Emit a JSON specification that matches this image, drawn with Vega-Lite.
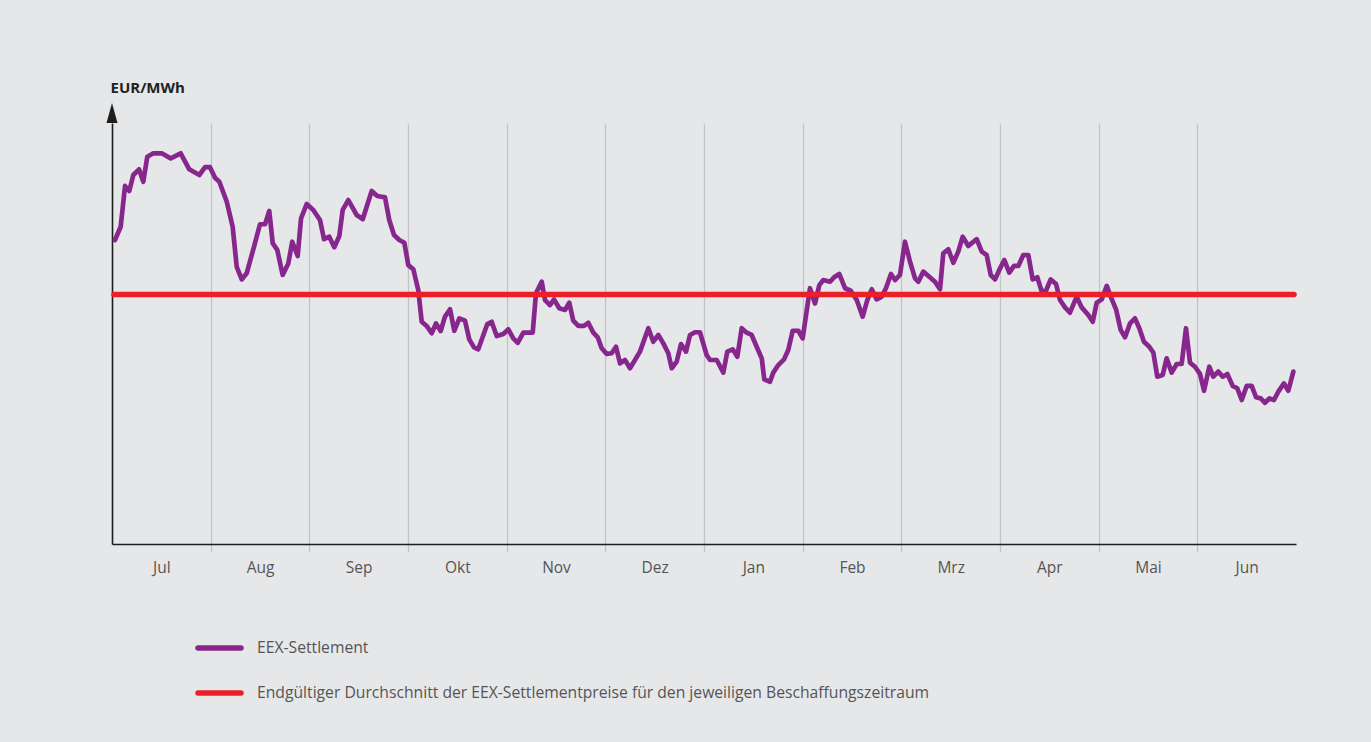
{
  "$schema": "https://vega.github.io/schema/vega-lite/v6.json",
  "autosize": {"type": "none"},
  "padding": {"left": 112, "top": 123, "right": 75, "bottom": 198},
  "width": 1184,
  "height": 421,
  "background": "#e6e7e9",
  "config": {
    "view": {"stroke": null},
    "font": "Open Sans",
    "axis": {"labelFont": "Open Sans", "titleFont": "Open Sans"},
    "legend": {"labelFont": "Open Sans"}
  },
  "datasets": {
    "eex": [
      {"t":0.030,"v":144.4},{"t":0.088,"v":150.7},{"t":0.132,"v":170.1},{"t":0.175,"v":167.7},{"t":0.216,"v":175.3},{"t":0.274,"v":178.0},{"t":0.317,"v":172.1},{"t":0.358,"v":184.0},{"t":0.419,"v":185.6},{"t":0.504,"v":185.6},
      {"t":0.595,"v":183.2},{"t":0.696,"v":185.6},{"t":0.783,"v":178.0},{"t":0.885,"v":175.3},{"t":0.943,"v":179.0},{"t":0.993,"v":179.0},{"t":1.044,"v":174.0},{"t":1.088,"v":172.1},{"t":1.163,"v":162.6},{"t":1.223,"v":150.7},
      {"t":1.264,"v":131.7},{"t":1.315,"v":125.7},{"t":1.365,"v":128.6},{"t":1.439,"v":141.2},{"t":1.500,"v":151.9},{"t":1.551,"v":151.9},{"t":1.594,"v":158.2},{"t":1.629,"v":142.9},{"t":1.675,"v":139.7},{"t":1.730,"v":127.8},
      {"t":1.787,"v":133.3},{"t":1.827,"v":143.6},{"t":1.882,"v":136.8},{"t":1.916,"v":154.7},{"t":1.973,"v":161.5},{"t":2.040,"v":158.7},{"t":2.108,"v":153.9},{"t":2.149,"v":144.8},{"t":2.202,"v":146.0},{"t":2.253,"v":141.0},
      {"t":2.304,"v":146.3},{"t":2.338,"v":158.7},{"t":2.395,"v":163.4},{"t":2.480,"v":156.3},{"t":2.541,"v":154.3},{"t":2.632,"v":167.7},{"t":2.689,"v":165.3},{"t":2.767,"v":164.7},{"t":2.810,"v":153.9},{"t":2.858,"v":146.8},
      {"t":2.912,"v":144.4},{"t":2.963,"v":143.1},{"t":3.003,"v":132.5},{"t":3.054,"v":130.5},{"t":3.104,"v":120.7},{"t":3.139,"v":105.6},{"t":3.189,"v":103.6},{"t":3.240,"v":100.1},{"t":3.284,"v":104.8},{"t":3.331,"v":101.2},
      {"t":3.375,"v":108.0},{"t":3.426,"v":111.5},{"t":3.469,"v":101.3},{"t":3.520,"v":107.2},{"t":3.578,"v":106.1},{"t":3.621,"v":97.2},{"t":3.669,"v":93.4},{"t":3.712,"v":92.5},{"t":3.804,"v":104.5},{"t":3.848,"v":105.6},
      {"t":3.899,"v":98.8},{"t":3.966,"v":99.8},{"t":4.017,"v":102.0},{"t":4.067,"v":97.7},{"t":4.112,"v":95.6},{"t":4.169,"v":100.4},{"t":4.264,"v":100.4},{"t":4.297,"v":119.1},{"t":4.355,"v":124.6},{"t":4.389,"v":115.9},
      {"t":4.439,"v":113.5},{"t":4.480,"v":116.2},{"t":4.533,"v":112.0},{"t":4.591,"v":111.2},{"t":4.635,"v":114.6},{"t":4.675,"v":106.1},{"t":4.726,"v":103.6},{"t":4.784,"v":103.6},{"t":4.827,"v":105.1},{"t":4.878,"v":100.4},
      {"t":4.923,"v":98.2},{"t":4.963,"v":93.0},{"t":5.014,"v":90.3},{"t":5.064,"v":90.6},{"t":5.108,"v":93.7},{"t":5.149,"v":85.8},{"t":5.199,"v":87.4},{"t":5.250,"v":83.5},{"t":5.311,"v":88.2},{"t":5.351,"v":91.4},
      {"t":5.436,"v":102.5},{"t":5.486,"v":96.1},{"t":5.537,"v":99.3},{"t":5.588,"v":95.3},{"t":5.638,"v":90.6},{"t":5.673,"v":83.5},{"t":5.723,"v":86.6},{"t":5.767,"v":95.0},{"t":5.818,"v":91.4},{"t":5.858,"v":99.3},
      {"t":5.909,"v":100.6},{"t":5.959,"v":100.6},{"t":6.027,"v":89.8},{"t":6.061,"v":87.4},{"t":6.129,"v":87.4},{"t":6.196,"v":81.4},{"t":6.236,"v":91.4},{"t":6.291,"v":92.5},{"t":6.338,"v":89.0},{"t":6.382,"v":102.5},
      {"t":6.433,"v":100.4},{"t":6.483,"v":99.3},{"t":6.534,"v":93.7},{"t":6.585,"v":88.2},{"t":6.611,"v":78.2},{"t":6.669,"v":77.1},{"t":6.702,"v":81.4},{"t":6.753,"v":85.0},{"t":6.811,"v":87.7},{"t":6.854,"v":92.2},
      {"t":6.899,"v":101.3},{"t":6.956,"v":101.3},{"t":7.000,"v":97.7},{"t":7.074,"v":121.5},{"t":7.125,"v":114.3},{"t":7.169,"v":123.0},{"t":7.209,"v":125.4},{"t":7.277,"v":124.6},{"t":7.318,"v":126.7},{"t":7.371,"v":128.3},
      {"t":7.429,"v":121.5},{"t":7.487,"v":120.3},{"t":7.548,"v":115.9},{"t":7.608,"v":108.0},{"t":7.655,"v":115.9},{"t":7.700,"v":121.0},{"t":7.750,"v":116.2},{"t":7.801,"v":117.5},{"t":7.844,"v":121.5},{"t":7.895,"v":128.3},
      {"t":7.936,"v":125.4},{"t":7.986,"v":127.8},{"t":8.037,"v":143.6},{"t":8.088,"v":134.1},{"t":8.139,"v":126.2},{"t":8.172,"v":124.6},{"t":8.223,"v":129.4},{"t":8.283,"v":127.0},{"t":8.341,"v":124.6},{"t":8.392,"v":121.0},
      {"t":8.425,"v":138.1},{"t":8.476,"v":140.0},{"t":8.527,"v":133.6},{"t":8.577,"v":138.9},{"t":8.622,"v":146.0},{"t":8.679,"v":141.6},{"t":8.764,"v":144.8},{"t":8.815,"v":138.9},{"t":8.865,"v":137.3},{"t":8.906,"v":127.8},
      {"t":8.950,"v":125.7},{"t":8.993,"v":130.2},{"t":9.044,"v":134.9},{"t":9.094,"v":128.9},{"t":9.142,"v":132.1},{"t":9.186,"v":132.1},{"t":9.236,"v":137.3},{"t":9.287,"v":137.3},{"t":9.331,"v":125.7},{"t":9.378,"v":126.7},
      {"t":9.423,"v":119.9},{"t":9.466,"v":120.3},{"t":9.514,"v":125.7},{"t":9.568,"v":123.5},{"t":9.608,"v":115.9},{"t":9.659,"v":112.4},{"t":9.709,"v":109.9},{"t":9.777,"v":117.5},{"t":9.828,"v":112.4},{"t":9.895,"v":108.8},
      {"t":9.940,"v":105.6},{"t":9.980,"v":114.6},{"t":10.031,"v":116.2},{"t":10.082,"v":122.6},{"t":10.122,"v":117.5},{"t":10.176,"v":111.5},{"t":10.223,"v":101.7},{"t":10.267,"v":98.2},{"t":10.318,"v":104.8},{"t":10.368,"v":107.2},
      {"t":10.412,"v":102.5},{"t":10.459,"v":96.1},{"t":10.513,"v":93.7},{"t":10.554,"v":90.9},{"t":10.594,"v":79.5},{"t":10.649,"v":80.3},{"t":10.689,"v":88.2},{"t":10.740,"v":81.4},{"t":10.791,"v":85.5},{"t":10.841,"v":85.5},
      {"t":10.885,"v":102.5},{"t":10.926,"v":86.1},{"t":10.976,"v":84.2},{"t":11.027,"v":80.8},{"t":11.068,"v":72.8},{"t":11.121,"v":84.2},{"t":11.162,"v":79.5},{"t":11.212,"v":81.9},{"t":11.257,"v":79.5},{"t":11.304,"v":80.8},
      {"t":11.358,"v":75.1},{"t":11.405,"v":74.0},{"t":11.450,"v":68.4},{"t":11.500,"v":75.1},{"t":11.551,"v":75.1},{"t":11.595,"v":69.7},{"t":11.642,"v":69.2},{"t":11.686,"v":67.1},{"t":11.730,"v":69.2},{"t":11.777,"v":68.4},
      {"t":11.821,"v":72.4},{"t":11.878,"v":76.3},{"t":11.922,"v":72.8},{"t":11.973,"v":81.9}
    ],
    "avg": [
      {"t":0.02,"v":118.5},{"t":11.98,"v":118.5}
    ]
  },
  "layer": [
    {
      "data": {"name": "eex"},
      "transform": [{"calculate": "'EEX-Settlement'", "as": "series"}],
      "mark": {"type": "line", "strokeWidth": 4.7, "strokeCap": "round", "strokeJoin": "round", "interpolate": "linear"},
      "encoding": {
        "x": {"field": "t", "type": "quantitative",
          "scale": {"domain": [0, 12], "nice": false, "zero": false},
          "axis": {"orient": "bottom", "values": [1,2,3,4,5,6,7,8,9,10,11], "labels": false, "title": null,
            "grid": true, "gridColor": "#c3c4c6", "gridWidth": 1.3,
            "ticks": true, "tickSize": 8, "tickColor": "#c3c4c6", "tickWidth": 1.3,
            "domain": true, "domainColor": "#1e1e1e", "domainWidth": 1.6}},
        "y": {"field": "v", "type": "quantitative",
          "scale": {"domain": [0, 200], "nice": false, "zero": false},
          "axis": {"orient": "left", "labels": false, "ticks": false, "grid": false,
            "domain": true, "domainColor": "#1e1e1e", "domainWidth": 1.6,
            "title": "EUR/MWh", "titleAngle": 0, "titleAlign": "left", "titleBaseline": "alphabetic",
            "titleX": -2, "titleY": -31, "titleFontSize": 15, "titleFontWeight": "bold", "titleColor": "#222222"}},
        "color": {"field": "series", "type": "nominal",
          "scale": {"domain": ["EEX-Settlement", "Endgültiger Durchschnitt der EEX-Settlementpreise für den jeweiligen Beschaffungszeitraum"], "range": ["#87278e", "#ec1f28"]},
          "legend": {"orient": "none", "legendX": 83, "legendY": 515, "title": null, "direction": "vertical",
            "symbolType": "stroke", "symbolSize": 1849, "symbolStrokeWidth": 5.5, "clipHeight": 20, "rowPadding": 25,
            "labelOffset": 13, "labelFontSize": 15.7, "labelColor": "#555555", "labelLimit": 0, "padding": 0,
            "encode": {"symbols": {"update": {"strokeCap": {"value": "round"}}}}}}
      }
    },
    {
      "data": {"name": "avg"},
      "transform": [{"calculate": "'Endgültiger Durchschnitt der EEX-Settlementpreise für den jeweiligen Beschaffungszeitraum'", "as": "series"}],
      "mark": {"type": "line", "strokeWidth": 5.5, "strokeCap": "round"},
      "encoding": {
        "x": {"field": "t", "type": "quantitative",
          "axis": {"orient": "bottom", "values": [0.5,1.5,2.5,3.5,4.5,5.5,6.5,7.5,8.5,9.5,10.5,11.5],
            "labelExpr": "['Jul','Aug','Sep','Okt','Nov','Dez','Jan','Feb','Mrz','Apr','Mai','Jun'][floor(datum.value)]",
            "title": null, "grid": false, "ticks": false, "tickSize": 0, "domain": false,
            "labelPadding": 16, "labelFontSize": 15.5, "labelColor": "#555555", "labelFlush": false, "labelOverlap": false}},
        "y": {"field": "v", "type": "quantitative", "axis": null},
        "color": {"field": "series", "type": "nominal"}
      }
    },
    {
      "data": {"values": [{"t": 0, "v": 200}]},
      "mark": {"type": "point", "shape": "M-0.55,0L0.55,0L0,-2Z", "filled": true, "size": 400, "color": "#1e1e1e", "opacity": 1},
      "encoding": {
        "x": {"field": "t", "type": "quantitative", "axis": null},
        "y": {"field": "v", "type": "quantitative", "axis": null}
      }
    }
  ],
  "resolve": {"axis": {"x": "independent", "y": "independent"}}
}
